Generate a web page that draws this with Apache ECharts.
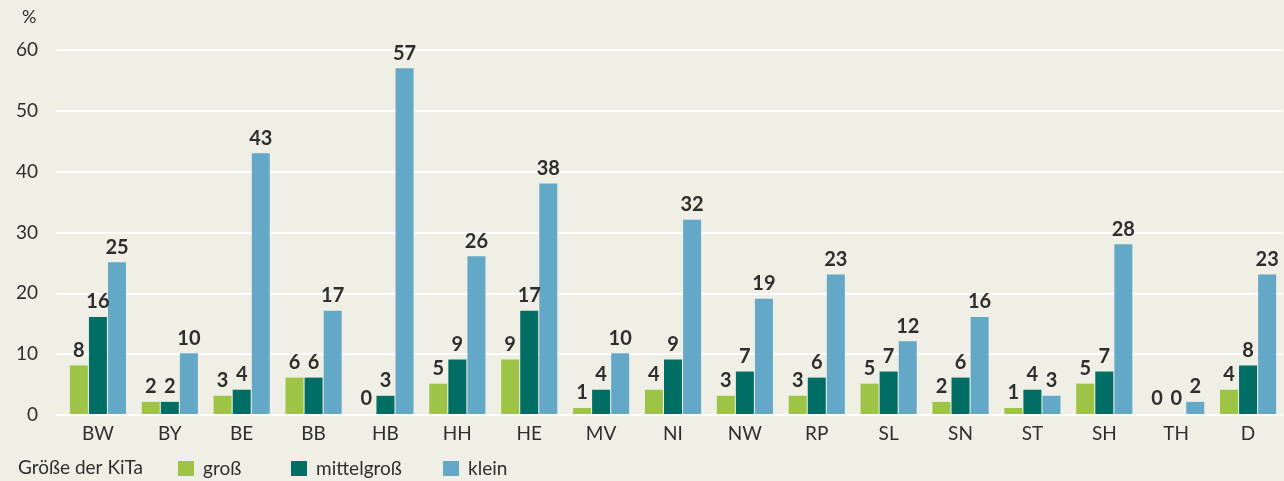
<!DOCTYPE html>
<html>
<head>
<meta charset="utf-8">
<script src="https://cdn.jsdelivr.net/npm/echarts@6/dist/echarts.min.js"></script>
<style>
  html, body { margin: 0; padding: 0; background: #f0efe5; }
  #chart { width: 1284px; height: 481px; }
</style>
</head>
<body>
<div id="chart"></div>
<script>
const categories = ['BW', 'BY', 'BE', 'BB', 'HB', 'HH', 'HE', 'MV', 'NI', 'NW', 'RP', 'SL', 'SN', 'ST', 'SH', 'TH', 'D']
const gross = [8, 2, 3, 6, 0, 5, 9, 1, 4, 3, 3, 5, 2, 1, 5, 0, 4]
const mittelgross = [16, 2, 4, 6, 3, 9, 17, 4, 9, 7, 6, 7, 6, 4, 7, 0, 8]
const klein = [25, 10, 43, 17, 57, 26, 38, 10, 32, 19, 23, 12, 16, 3, 28, 2, 23]
const seriesNames = ['groß', 'mittelgroß', 'klein']
const yTicks = { min: 0, max: 60, interval: 10 }

const textColor = '#2e2e2e'
const font = 'Lato'
const colors = ['#9dc446', '#006e64', '#64a8c8']

const chart = echarts.init(document.getElementById('chart'))

const makeSeries = (name, data, color) => ({
  name,
  type: 'bar',
  xAxisIndex: 1,
  yAxisIndex: 1,
  data,
  barWidth: 18,
  barGap: '6%',
  itemStyle: { color },
  label: {
    show: true,
    position: 'top',
    distance: 5,
    color: textColor,
    fontFamily: font,
    fontWeight: 'bold',
    fontSize: 20
  }
})

// one legend per entry so each one sits where the original puts it
const legendLefts = [178, 291, 443]
const legends = seriesNames.map((name, i) => ({
  left: legendLefts[i],
  top: 459,
  padding: 0,
  itemWidth: 16,
  itemHeight: 15,
  icon: 'rect',
  textStyle: { color: textColor, fontSize: 19, fontFamily: font, padding: [0, 0, 0, 4] },
  data: [name]
}))

const option = {
  backgroundColor: '#f0efe5',
  animation: false,
  textStyle: { fontFamily: font },
  grid: [
    // gridlines + y labels
    { left: 56, right: 2, top: 50, bottom: 66 },
    // bars
    { left: 62, right: 0, top: 50, bottom: 67 }
  ],
  xAxis: [
    { type: 'category', gridIndex: 0, data: categories, show: false },
    {
      type: 'category',
      gridIndex: 1,
      data: categories,
      axisLine: { show: false },
      axisTick: { show: false },
      axisLabel: { color: textColor, fontSize: 19, fontFamily: font, margin: 10 }
    }
  ],
  yAxis: [
    {
      type: 'value',
      gridIndex: 0,
      ...yTicks,
      axisLine: { show: false },
      axisTick: { show: false },
      splitLine: { lineStyle: { color: '#ffffff', width: 2 } },
      axisLabel: { color: textColor, fontSize: 19, fontFamily: font, margin: 18 }
    },
    {
      type: 'value',
      gridIndex: 1,
      ...yTicks,
      show: false,
      splitLine: { show: false }
    }
  ],
  legend: legends,
  graphic: [
    {
      type: 'text',
      left: 22,
      top: 8,
      style: { text: '%', fill: textColor, font: '18px Lato' }
    },
    {
      type: 'text',
      left: 18,
      top: 458,
      style: { text: 'Größe der KiTa', fill: textColor, font: '19px Lato' }
    }
  ],
  series: seriesNames.map((n, i) => makeSeries(n, [gross, mittelgross, klein][i], colors[i]))
}

chart.setOption(option)
</script>
</body>
</html>
